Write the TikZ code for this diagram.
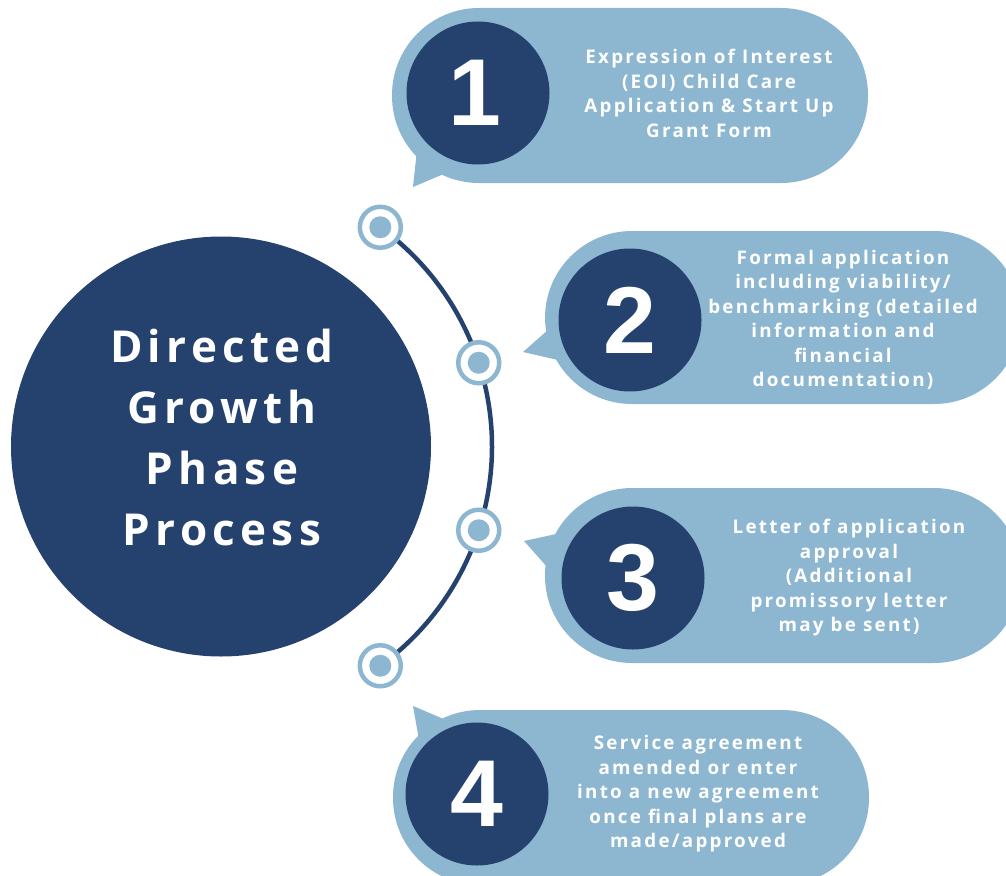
\documentclass[tikz,border=0pt]{standalone}
\usepackage{fontspec}
\usetikzlibrary{calc}
\newfontfamily\osb{Open Sans}[LetterSpace=12]
\newfontfamily\digitfont{Liberation Sans}
\definecolor{navy}{HTML}{25426F}
\definecolor{sky}{HTML}{8DB7D1}
\begin{document}
\begin{tikzpicture}[x=1pt,y=-1pt,
  pillfill/.style={fill=sky, rounded corners=87pt},
  tailfill/.style={fill=sky},
  numdisc/.style={circle, fill=navy, inner sep=0pt, minimum size=143pt},
  digit/.style={text=white, inner sep=0pt, font=\digitfont\bfseries\fontsize{95}{95}\selectfont},
  steptext/.style={text=white, align=center, inner sep=0pt, font=\osb\bfseries\fontsize{18.8}{24.5}\selectfont},
  maindisc/.style={circle, fill=navy, inner sep=0pt, minimum size=420pt},
  maintext/.style={text=white, align=center, inner sep=0pt, font=\osb\bfseries\fontsize{44}{61}\selectfont},
  ring/.style={circle, draw=sky, line width=4.5pt, fill=white, inner sep=0pt, minimum size=41pt,
    path picture={\fill[sky] (path picture bounding box.center) circle (11pt);}},
  arcline/.style={draw=navy, line width=4.5pt}
]
\useasboundingbox (0,0) rectangle (1006,875);
\clip (0,0) rectangle (1006,875);

% centre of the big disc and the arc
\coordinate (c) at (221,446.5);
\coordinate (p1) at ($(c)+(-54:271)$);
\coordinate (p2) at ($(c)+(-18:271)$);
\coordinate (p3) at ($(c)+(18:271)$);
\coordinate (p4) at ($(c)+(54:271)$);

% arc with rings
\draw[arcline] (p1) arc[start angle=-54, end angle=54, radius=271];
\node[ring] (r1) at (p1) {};
\node[ring] (r2) at (p2) {};
\node[ring] (r3) at (p3) {};
\node[ring] (r4) at (p4) {};

% main disc
\node[maindisc] (main) at (c) {};
\node[maintext] (maintitle) at (222,437) {Directed\\Growth\\Phase\\Process};

% callout 1
\fill[pillfill] (392,8) rectangle (868,183);
\fill[tailfill] (417,150) -- (413,187) -- (446,173) -- cycle;
\node[numdisc] (n1) at (478,93) {};
\node[digit] (d1) at (475,93) {1};
\node[steptext] (t1) at (709,93.5) {Expression of Interest\\(EOI) Child Care\\Application \& Start Up\\Grant Form};

% callout 2
\fill[pillfill] (545,231) rectangle (1021,404);
\fill[tailfill] (549,329) -- (523,352) -- (558,360) -- cycle;
\node[numdisc] (n2) at (630,320) {};
\node[digit] (d2) at (n2.center) {2};
\node[steptext] (t2) at (843,320) {Formal application\\including viability/\\benchmarking (detailed\\information and\\financial\\documentation)};

% callout 3
\fill[pillfill] (545,488) rectangle (1021,663);
\fill[tailfill] (556,534) -- (524,541) -- (548,568) -- cycle;
\node[numdisc] (n3) at (633,578) {};
\node[digit] (d3) at (n3.center) {3};
\node[steptext] (t3) at (849,578) {Letter of application\\approval\\(Additional\\promissory letter\\may be sent)};

% callout 4
\fill[pillfill] (393,710) rectangle (869,885);
\fill[tailfill] (446,720) -- (413,706) -- (419,740) -- cycle;
\node[numdisc] (n4) at (477,794) {};
\node[digit] (d4) at (n4.center) {4};
\node[steptext] (t4) at (698,794) {Service agreement\\amended or enter\\into a new agreement\\once final plans are\\made/approved};
\end{tikzpicture}
\end{document}
